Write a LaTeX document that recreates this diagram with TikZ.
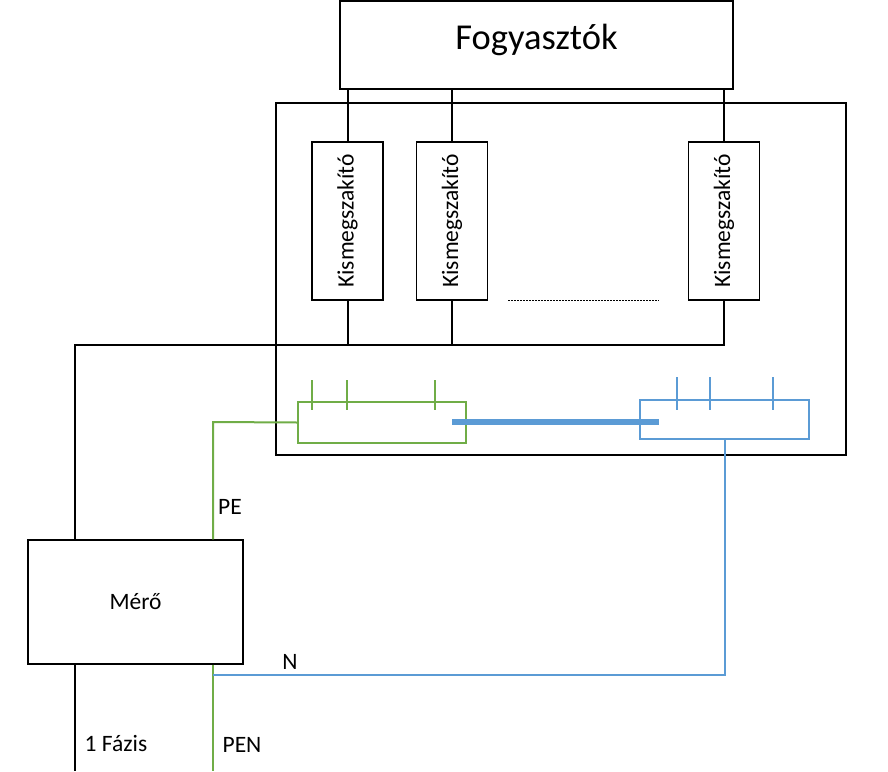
\documentclass[tikz,border=0pt]{standalone}
\usepackage{fontspec}
\setmainfont{Carlito}
\definecolor{pegreen}{RGB}{112,173,71}
\definecolor{nblue}{RGB}{91,155,213}
\tikzset{
  box/.style={draw, line width=1.2pt, inner sep=0pt},
  breaker/.style={box, minimum width=71, minimum height=158},
  wire/.style={line width=2pt},
  pewire/.style={pegreen, line width=2pt},
  nwire/.style={nblue, line width=2pt},
  pebox/.style={draw=pegreen, line width=1.3pt, minimum width=168, minimum height=41},
  nbox/.style={draw=nblue, line width=1.3pt, minimum width=169, minimum height=39},
  felirat/.style={inner sep=0pt, font=\fontsize{23.5}{26}\selectfont}
}
\begin{document}
\begin{tikzpicture}[x=1pt,y=-1pt]
  \useasboundingbox (0,0) rectangle (888,771);
  % fogyasztok es eloszto doboz
  \node[box, minimum width=393, minimum height=88, text height=8pt, text depth=0pt,
    font=\fontsize{36.5}{40}\selectfont] (fogy) at (536.5,45) {Fogyasztók};
  \node[box, minimum width=570, minimum height=352] (eloszto) at (561,279) {};
  \foreach \n/\x in {1/347.5,2/452,3/724}
    \node[breaker, font=\fontsize{23.5}{26}\selectfont] (kms\n) at (\x,221) {\rotatebox{90}{Kismegszakító}};
  \draw[dashed, dash pattern=on 2pt off 1pt, line width=0.8pt] (508,300) -- (659,300);
  % fazis
  \coordinate (fazisR) at (724,345);
  \coordinate (fazisL) at (75,345);
  \coordinate (fazisbe) at (75,771);
  \foreach \n in {1,2,3}
    \draw[wire] (kms\n.north) -- (kms\n.north |- fogy.south);
  \foreach \n in {1,2}
    \draw[wire] (kms\n.south) -- (kms\n.south |- fazisL);
  \node[box, minimum width=215, minimum height=124, font=\fontsize{23.5}{26}\selectfont] (mero) at (135.5,602) {Mérő};
  \draw[wire] (kms3.south) -- (fazisR) -- (fazisL) -- (fazisL |- mero.north);
  \draw[wire] (fazisbe |- mero.south) -- (fazisbe);
  % PE es N sinek
  \node[pebox] (pesin) at (382,422.5) {};
  \node[nbox] (nsin) at (724.5,419.5) {};
  \foreach \x in {312,347,435}
    \draw[pewire] (\x,380) -- (\x,410);
  \foreach \x in {677,710,773}
    \draw[nwire] (\x,377) -- (\x,410);
  \draw[nblue, line width=6pt] (452,422) -- (659,422);
  \coordinate (pesarok) at (213,422);
  \coordinate (penbe) at (213,771);
  \coordinate (nleag) at (213,675);
  \draw[pewire] (pesin.west) -- (pesarok) -- (pesarok |- mero.north);
  \draw[pewire] (penbe |- mero.south) -- (penbe);
  \draw[nwire] (nleag) -- (nleag -| nsin.south) -- (nsin.south);
  % feliratok
  \node[felirat] (pe) at (230,507) {PE};
  \node[felirat] (n) at (290,662) {N};
  \node[felirat] (pen) at (242,745) {PEN};
  \node[felirat] (fazis) at (116,743) {1 Fázis};
\end{tikzpicture}
\end{document}
